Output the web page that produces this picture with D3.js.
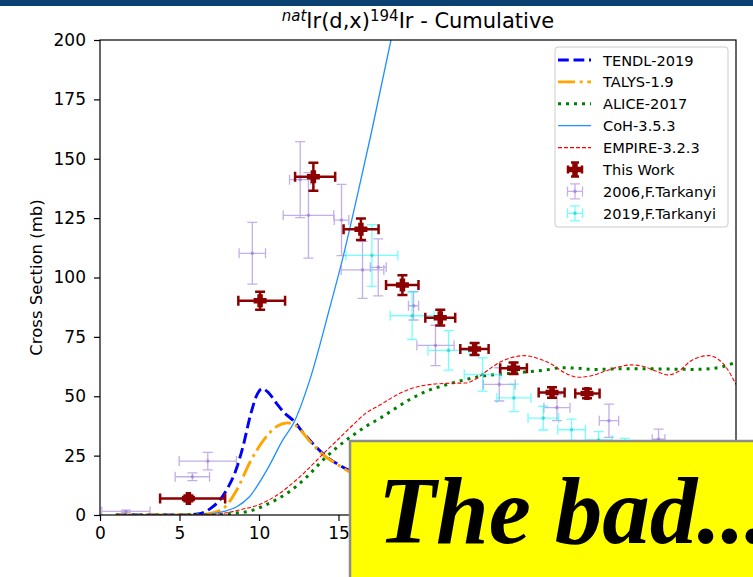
<!DOCTYPE html>
<html>
<head>
<meta charset="utf-8">
<script src="https://cdn.jsdelivr.net/npm/d3@7"></script>
<style>
  html, body { margin: 0; padding: 0; background: #fff; }
  svg { display: block; font-family: "DejaVu Sans", sans-serif; }
</style>
</head>
<body>
<svg id="chart" width="753" height="577"></svg>
<script>
// Model excitation functions: [energy (MeV), cross section (mb)]
const tendl2019 = [[1,0],[5,0],[6,0.3],[6.5,1],[7,3],[7.5,6],[8,11],[8.5,18],[9,29],[9.5,43],[9.9,51],[10.2,53.2],[10.6,51.5],[11.1,47],[11.6,43],[12.2,39.5],[12.8,34.5],[13.4,30],[14.1,25.3],[15,21.2],[15.6,19],[17,15],[20,10.5],[25,6.5],[30,4.5],[35,3.3],[40,2.5]];
const talys19 = [[1,0],[6,0],[7,0.8],[7.8,3],[8.6,10.5],[9.4,21.8],[10.3,31.6],[11.1,37.2],[11.8,38.8],[12.4,37.2],[13.2,31],[14.1,25],[15,21],[15.6,18.5],[17,14.5],[20,10],[25,6],[30,4],[35,3],[40,2.3]];
const alice2017 = [[1,0],[7,0.1],[8.5,0.8],[9.5,1.8],[10.5,4.5],[11.9,9.8],[13,16],[14,23],[15,29],[16,34],[16.7,37.2],[17.6,40.7],[18.6,45],[19.6,49.1],[20.6,52.3],[21.7,54.7],[22.8,56.7],[23.8,58.2],[25,59.2],[26,59.8],[28,61],[29,62],[30,61.8],[31,61.3],[33.2,61.6],[35.3,61.5],[37.4,61.3],[38.5,61.7],[39.2,62.5],[40,64.3]];
const coh353 = [[1,0],[6,0],[7,0.4],[7.8,1.5],[8.6,3.5],[9.4,7.7],[10.5,19],[11.5,31.6],[12.2,39],[13.2,57],[14.4,86],[15.3,109],[16.2,135],[17.1,162],[18.3,200],[19.5,240]];
const empire323 = [[1,0],[7,0.2],[8,1],[9,2.5],[9.85,4],[11,7.8],[11.9,12.2],[13,18.8],[14,25.5],[15,32],[16,38.5],[16.7,42.8],[17.6,46.3],[18.6,50.3],[19.6,53.3],[20.6,54.8],[21.7,55.4],[23,55.6],[23.8,58],[24.4,61],[25.2,64.5],[25.9,66.3],[26.7,67.1],[27.5,66],[28.4,63.5],[29.2,60],[30.1,58],[30.9,58.6],[31.7,60.4],[32.6,62.3],[33.4,63.2],[34.2,62.5],[35,60.5],[35.7,59],[36.4,60.5],[37.1,64.6],[37.8,66.7],[38.3,67.1],[38.9,65.5],[39.4,62],[39.8,57.5],[40,55]];

// Measured cross sections, this work
const workE     = [5.56, 10.07, 13.42, 16.41, 19.02, 21.40, 23.56, 26.01, 28.43, 30.63];
const workEerrLo= [1.78, 1.37, 1.15, 1.09, 1.03, 0.94, 0.90, 0.84, 0.84, 0.74];
const workEerrHi= [2.31, 1.57, 1.37, 1.11, 1.01, 0.94, 0.88, 0.84, 0.79, 0.79];
const workXS    = [7.0, 90.2, 142.4, 120.3, 96.8, 83.1, 69.9, 61.8, 51.6, 51.2];
const workXSerr = [1.2, 3.8, 5.9, 4.5, 4.2, 3.3, 2.5, 2.4, 2.2, 2.0];

// Literature data, F. Tarkanyi 2006
const t2006E    = [1.63, 5.81, 6.78, 9.58, 12.59, 13.11, 15.19, 16.51, 17.50, 19.72, 21.10, 25.11, 28.74, 32.01, 35.13, 37.97];
const t2006Eerr = [1.52, 1.08, 1.80, 0.83, 0.67, 1.59, 0.46, 1.34, 0.50, 0.32, 1.17, 1.00, 0.82, 0.61, 0.40, 0.50];
const t2006XS   = [1.5, 16.1, 22.7, 110.2, 141.2, 126.2, 124.2, 103.2, 104.3, 88.1, 71.4, 55.0, 45.2, 39.7, 31.9, 29.0];
const t2006XSerr= [0.5, 1.6, 3.7, 13, 16, 18, 15, 12, 12, 6, 8.5, 7, 5.5, 7, 4.3, 2.3];

// Literature data, F. Tarkanyi 2019
const t2019E    = [17.10, 19.63, 21.92, 24.06, 26.03, 27.88, 29.66, 31.36, 33.00];
const t2019Eerr = [1.63, 1.38, 1.29, 1.15, 1.07, 0.96, 0.87, 0.84, 0.40];
const t2019XS   = [109.3, 83.9, 69.3, 59.2, 49.3, 40.8, 35.9, 31.6, 29.5];
const t2019XSerr= [13, 10, 8.3, 7, 5.8, 5, 4.5, 3.5, 2.8];

const xTickValues = [0, 5, 10, 15, 20, 25, 30, 35, 40];
const yTickValues = [0, 25, 50, 75, 100, 125, 150, 175, 200];

const legendLabels = ["TENDL-2019", "TALYS-1.9", "ALICE-2017", "CoH-3.5.3", "EMPIRE-3.2.3",
                      "This Work", "2006,F.Tarkanyi", "2019,F.Tarkanyi"];

const svg = d3.select("#chart");
const W = 753, H = 577;
const plot = { left: 100, right: 736, top: 40, bottom: 515 };

svg.append("rect").attr("width", W).attr("height", H).attr("fill", "#fff");
// slide header strip
svg.append("rect").attr("x", 0).attr("y", 0).attr("width", W).attr("height", 6).attr("fill", "#0b4170");

const x = d3.scaleLinear().domain([0, 40]).range([plot.left, plot.right]);
const y = d3.scaleLinear().domain([0, 200]).range([plot.bottom, plot.top]);

svg.append("clipPath").attr("id", "plotClip")
  .append("rect")
  .attr("x", plot.left).attr("y", plot.top)
  .attr("width", plot.right - plot.left).attr("height", plot.bottom - plot.top);

const data = svg.append("g").attr("clip-path", "url(#plotClip)");

const line = d3.line().x(d => x(d[0])).y(d => y(d[1])).curve(d3.curveMonotoneX);

const models = [
  { d: tendl2019, color: "#0000ff", width: 2.9, dash: "10.8,4.7" },
  { d: talys19,   color: "#ffa500", width: 2.9, dash: "17,4.7,2.9,4.7" },
  { d: alice2017, color: "#008000", width: 3.0, dash: "3,5" },
  { d: coh353,    color: "#1e90ff", width: 1.3, dash: null },
  { d: empire323, color: "#ff0000", width: 1.1, dash: "4,2" }
];
models.forEach(m => {
  data.append("path").datum(m.d)
    .attr("d", line)
    .attr("fill", "none")
    .attr("stroke", m.color)
    .attr("stroke-width", m.width)
    .attr("stroke-dasharray", m.dash);
});

// error bars with end caps
function errorBars(g, ex, ey, lo, hi, ye, color, width, opacity, cap) {
  const grp = g.append("g").attr("stroke", color).attr("stroke-width", width).attr("opacity", opacity).attr("fill", "none");
  ex.forEach((e, i) => {
    const cx = x(e), cy = y(ey[i]);
    const x0 = x(e - lo[i]), x1 = x(e + hi[i]);
    const y0 = y(ey[i] - ye[i]), y1 = y(ey[i] + ye[i]);
    const p = d3.path();
    p.moveTo(x0, cy); p.lineTo(x1, cy);
    p.moveTo(cx, y0); p.lineTo(cx, y1);
    p.moveTo(x0, cy - cap); p.lineTo(x0, cy + cap);
    p.moveTo(x1, cy - cap); p.lineTo(x1, cy + cap);
    p.moveTo(cx - cap, y0); p.lineTo(cx + cap, y0);
    p.moveTo(cx - cap, y1); p.lineTo(cx + cap, y1);
    grp.append("path").attr("d", p.toString());
  });
  return grp;
}

function plusPath(cx, cy, s, t) {
  const a = s / 2, b = t / 2;
  return `M${cx - b},${cy - a}H${cx + b}V${cy - b}H${cx + a}V${cy + b}H${cx + b}V${cy + a}H${cx - b}V${cy + b}H${cx - a}V${cy - b}H${cx - b}Z`;
}

// Tarkanyi 2006
errorBars(data, t2006E, t2006XS, t2006Eerr, t2006Eerr, t2006XSerr, "#9370db", 1.3, 0.55, 5);
t2006E.forEach((e, i) => {
  data.append("circle").attr("cx", x(e)).attr("cy", y(t2006XS[i])).attr("r", 1.8)
    .attr("fill", "#9370db").attr("opacity", 0.6);
});
// Tarkanyi 2019
errorBars(data, t2019E, t2019XS, t2019Eerr, t2019Eerr, t2019XSerr, "#00ffff", 1.3, 0.55, 5);
t2019E.forEach((e, i) => {
  data.append("circle").attr("cx", x(e)).attr("cy", y(t2019XS[i])).attr("r", 1.8)
    .attr("fill", "#00c8c8").attr("opacity", 0.6);
});
// This work
errorBars(data, workE, workXS, workEerrLo, workEerrHi, workXSerr, "#8b0000", 2.5, 1, 5);
workE.forEach((e, i) => {
  data.append("path").attr("d", plusPath(x(e), y(workXS[i]), 13, 5.5)).attr("fill", "#8b0000");
});

// Axes
const xAxis = d3.axisBottom(x).tickValues(xTickValues).tickSize(6).tickPadding(6);
const yAxis = d3.axisLeft(y).tickValues(yTickValues).tickSize(6).tickPadding(8);

const gx = svg.append("g").attr("transform", `translate(0,${plot.bottom})`).call(xAxis);
const gy = svg.append("g").attr("transform", `translate(${plot.left},0)`).call(yAxis);
[gx, gy].forEach(g => {
  g.select(".domain").remove();
  g.selectAll(".tick line").attr("stroke", "#000").attr("stroke-width", 1.2);
  g.selectAll(".tick text").attr("fill", "#000").style("font-size", "17px")
    .style("font-family", "'DejaVu Sans', sans-serif");
});

svg.append("rect")
  .attr("x", plot.left).attr("y", plot.top)
  .attr("width", plot.right - plot.left).attr("height", plot.bottom - plot.top)
  .attr("fill", "none").attr("stroke", "#000").attr("stroke-width", 1.2);

// Axis label
svg.append("text")
  .attr("transform", `translate(36,${(plot.top + plot.bottom) / 2}) rotate(-90)`)
  .attr("text-anchor", "middle").attr("dominant-baseline", "central")
  .style("font-size", "16.5px").text("Cross Section (mb)");

// Title with superscripts
const title = svg.append("text")
  .attr("x", (plot.left + plot.right) / 2).attr("y", 28)
  .attr("text-anchor", "middle").style("font-size", "21px");
title.append("tspan").attr("dy", -7).style("font-size", "15px").style("font-style", "italic").text("nat");
title.append("tspan").attr("dy", 7).text("Ir(d,x)");
title.append("tspan").attr("dy", -7).style("font-size", "15px").text("194");
title.append("tspan").attr("dy", 7).text("Ir - Cumulative");

// Legend
const leg = svg.append("g");
leg.append("rect").attr("x", 555).attr("y", 47).attr("width", 173).attr("height", 180).attr("rx", 3)
  .attr("fill", "#fff").attr("fill-opacity", 0.8).attr("stroke", "#cccccc").attr("stroke-width", 1);

const rowY = i => 60 + i * 21.9;
models.forEach((m, i) => {
  leg.append("line").attr("x1", 558).attr("x2", 591).attr("y1", rowY(i)).attr("y2", rowY(i))
    .attr("stroke", m.color).attr("stroke-width", m.width).attr("stroke-dasharray", m.dash);
});

function legendErr(cx, cy, color, width, opacity, half, cap) {
  const p = d3.path();
  p.moveTo(cx - half, cy); p.lineTo(cx + half, cy);
  p.moveTo(cx, cy - half); p.lineTo(cx, cy + half);
  p.moveTo(cx - half, cy - cap); p.lineTo(cx - half, cy + cap);
  p.moveTo(cx + half, cy - cap); p.lineTo(cx + half, cy + cap);
  p.moveTo(cx - cap, cy - half); p.lineTo(cx + cap, cy - half);
  p.moveTo(cx - cap, cy + half); p.lineTo(cx + cap, cy + half);
  leg.append("path").attr("d", p.toString()).attr("stroke", color).attr("stroke-width", width)
    .attr("opacity", opacity).attr("fill", "none");
}
legendErr(575, rowY(5), "#8b0000", 2.5, 1, 7, 4);
leg.append("path").attr("d", plusPath(575, rowY(5), 13, 5.5)).attr("fill", "#8b0000");
legendErr(575, rowY(6), "#9370db", 1.3, 0.55, 7.5, 5);
leg.append("circle").attr("cx", 575).attr("cy", rowY(6)).attr("r", 1.8).attr("fill", "#9370db").attr("opacity", 0.6);
legendErr(575, rowY(7), "#00ffff", 1.3, 0.55, 7.5, 5);
leg.append("circle").attr("cx", 575).attr("cy", rowY(7)).attr("r", 1.8).attr("fill", "#00c8c8").attr("opacity", 0.6);

legendLabels.forEach((t, i) => {
  leg.append("text").attr("x", 603).attr("y", rowY(i)).attr("dominant-baseline", "central")
    .style("font-size", "14.6px").text(t);
});

// Caption box
svg.append("rect").attr("x", 350).attr("y", 441).attr("width", 420).attr("height", 150)
  .attr("fill", "#ffff00").attr("stroke", "#8c8c8c").attr("stroke-width", 2.5);
svg.append("text").attr("x", 378).attr("y", 543)
  .style("font-family", "'Liberation Serif', 'DejaVu Serif', serif")
  .style("font-weight", "bold").style("font-style", "italic").style("font-size", "95px")
  .text("The bad...");
</script>
</body>
</html>
